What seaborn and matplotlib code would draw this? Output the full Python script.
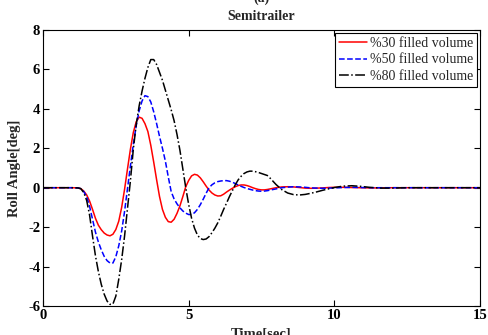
import numpy as np
import pandas as pd
import matplotlib
matplotlib.use("Agg")
import matplotlib.pyplot as plt
import seaborn as sns

# ---- data ----
time_s = [0.0, 1.0,
          1.2, 1.3, 1.4, 1.5, 1.6, 1.7, 1.8, 1.9,
          2.0, 2.1, 2.2, 2.3, 2.4, 2.5, 2.6, 2.7, 2.8, 2.9,
          3.0, 3.1, 3.2, 3.3, 3.4, 3.5, 3.6, 3.7, 3.8, 3.9,
          4.0, 4.1, 4.2, 4.3, 4.4, 4.5, 4.6, 4.7, 4.8, 4.9,
          5.0, 5.1, 5.2, 5.3, 5.4, 5.5, 5.6, 5.7, 5.8, 5.9,
          6.0, 6.1, 6.2, 6.3, 6.4, 6.5, 6.6, 6.7, 6.8, 6.9,
          7.0, 7.1, 7.2, 7.3, 7.4, 7.5, 7.6, 7.7, 7.8, 7.9,
          8.0,
          8.2, 8.4, 8.6, 8.8, 9.0, 9.2, 9.4, 9.6, 9.8, 10.0,
          10.3, 10.6, 10.9, 11.2, 11.6, 12.0, 12.5, 13.0, 14.0, 15.0]

roll_30 = [0, 0,
           -0.01, -0.05, -0.17, -0.37, -0.68, -1.1, -1.55, -1.9,
           -2.13, -2.3, -2.4, -2.44, -2.36, -2.12, -1.7, -1.0, -0.08, 0.95,
           1.95, 2.8, 3.35, 3.58, 3.52, 3.25, 2.85, 2.15, 1.3, 0.4,
           -0.45, -1.1, -1.5, -1.72, -1.75, -1.6, -1.3, -0.92, -0.45, 0.05,
           0.37, 0.6, 0.68, 0.64, 0.5, 0.3, 0.08, -0.12, -0.27, -0.37,
           -0.42, -0.41, -0.33, -0.22, -0.12, -0.03, 0.05, 0.11, 0.14, 0.14,
           0.11, 0.06, 0.0, -0.05, -0.09, -0.11, -0.11, -0.09, -0.06, -0.03,
           0.0,
           0.04, 0.05, 0.04, 0.01, -0.02, -0.03, -0.02, -0.01, 0.01, 0.02,
           0.02, 0.01, 0.0, -0.01, -0.01, 0.0, 0.0, 0.0, 0.0, 0.0]

roll_50 = [0, 0,
           -0.01, -0.05, -0.2, -0.46, -0.95, -1.6, -2.25, -2.75,
           -3.15, -3.48, -3.7, -3.82, -3.82, -3.5, -2.95, -2.2, -1.2, -0.05,
           1.1, 2.2, 3.15, 3.9, 4.4, 4.67, 4.62, 4.35, 3.85, 3.25,
           2.6, 2.0, 1.35, 0.55, -0.2, -0.57, -0.82, -1.02, -1.18, -1.29,
           -1.36, -1.36, -1.27, -1.1, -0.86, -0.58, -0.28, 0.0, 0.15, 0.25,
           0.31, 0.34, 0.36, 0.36, 0.33, 0.28, 0.21, 0.14, 0.07, 0.01,
           -0.04, -0.08, -0.12, -0.15, -0.17, -0.18, -0.17, -0.15, -0.12, -0.09,
           -0.06,
           0.0, 0.03, 0.05, 0.04, 0.02, -0.01, -0.02, -0.03, -0.02, -0.01,
           0.01, 0.02, 0.01, 0.0, 0.0, 0.0, 0.0, 0.0, 0.0, 0.0]

roll_80 = [0, 0,
           -0.01, -0.05, -0.25, -0.65, -1.4, -2.45, -3.45, -4.25,
           -4.9, -5.4, -5.75, -5.92, -5.9, -5.5, -4.65, -3.65, -2.45, -1.05,
           0.35, 1.95, 3.2, 4.15, 4.9, 5.55, 6.1, 6.5, 6.5, 6.25,
           5.85, 5.45, 4.95, 4.45, 3.95, 3.4, 2.7, 1.9, 0.95, 0.0,
           -0.85, -1.55, -2.05, -2.4, -2.58, -2.63, -2.6, -2.48, -2.28, -2.05,
           -1.78, -1.45, -1.1, -0.78, -0.45, -0.15, 0.15, 0.4, 0.58, 0.72,
           0.8, 0.84, 0.84, 0.81, 0.77, 0.72, 0.67, 0.62, 0.48, 0.32,
           0.16,
           -0.1, -0.27, -0.35, -0.37, -0.34, -0.28, -0.21, -0.13, -0.06, 0.01,
           0.08, 0.1, 0.07, 0.02, -0.02, -0.02, 0.0, 0.0, 0.0, 0.0]

series_labels = ["%30 filled volume", "%50 filled volume", "%80 filled volume"]
x_ticks = [0, 5, 10, 15]
y_ticks = [-6, -4, -2, 0, 2, 4, 6, 8]

# ---- styling ----
sns.set_style("white")
plt.rcParams["font.family"] = ["Liberation Serif", "DejaVu Serif"]

fig = plt.figure(figsize=(4.89, 3.35), dpi=100)
ax = fig.add_axes([43 / 489, 1 - 306 / 335, (480 - 43) / 489, (306 - 30) / 335])

colors = ["#ff0000", "#0000ff", "#000000"]
styles = ["-", "--", "-."]
for vals, lab, c, ls in zip([roll_30, roll_50, roll_80], series_labels, colors, styles):
    df = pd.DataFrame({"t": time_s, "v": vals})
    sns.lineplot(data=df, x="t", y="v", ax=ax, color=c, linestyle=ls,
                 linewidth=1.1, label=lab, estimator=None, sort=False)

ax.set_xlim(0, 15)
ax.set_ylim(-6, 8)
ax.set_xticks(x_ticks)
ax.set_yticks(y_ticks)
ax.set_xticklabels([str(v) for v in x_ticks], fontweight="bold", fontsize=10.5)
ax.set_yticklabels([str(v) for v in y_ticks], fontweight="bold", fontsize=10.5)
ax.tick_params(direction="in", length=4, width=0.8, top=True, right=True,
               bottom=True, left=True, pad=2, colors="black")
ax.tick_params(axis="x", pad=2)
for s in ax.spines.values():
    s.set_visible(True)
    s.set_color("black")
    s.set_linewidth(0.8)

ax.set_xlabel("Time[sec]", fontweight="bold", fontsize=10.5, labelpad=4)
ax.set_ylabel("Roll Angle[deg]", fontweight="bold", fontsize=10.5, labelpad=5)
ax.set_title("Semitrailer", fontweight="bold", fontsize=10, pad=7)
fig.text(261.5 / 489, 1 - 1.5 / 335, "(a)", ha="center", va="baseline",
         fontweight="bold", fontsize=10)

leg = ax.legend(loc="upper right", frameon=True, fancybox=False, fontsize=10,
                handlelength=2.0, handletextpad=0.2, borderpad=0.3,
                labelspacing=0.25, borderaxespad=0.2)
leg.get_frame().set_edgecolor("black")
leg.get_frame().set_linewidth(0.8)
leg.get_frame().set_alpha(1)

fig.savefig("out.png", dpi=100)
